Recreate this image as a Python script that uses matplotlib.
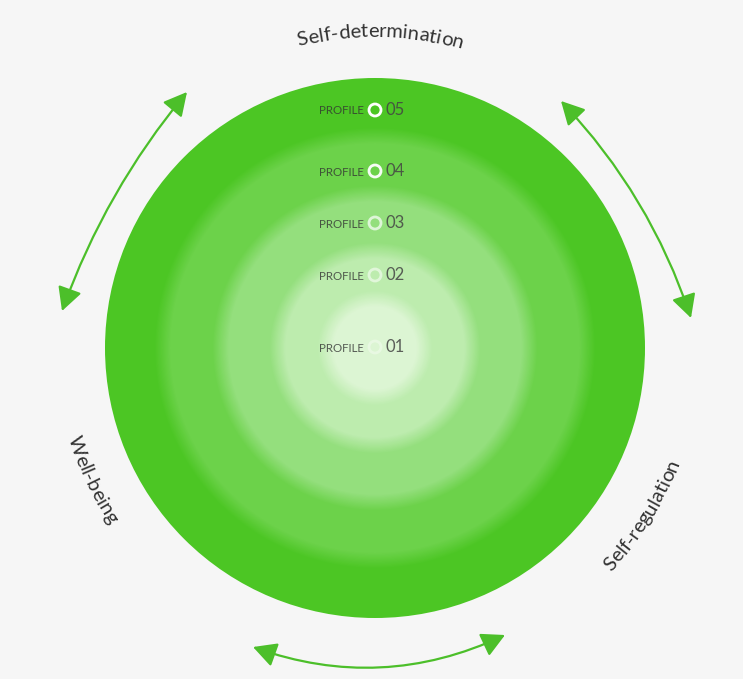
import numpy as np
import matplotlib
matplotlib.use("Agg")
import matplotlib.pyplot as plt
from matplotlib.patches import Circle, FancyArrowPatch
from matplotlib.path import Path
from matplotlib.colors import to_rgb
from matplotlib import font_manager
from matplotlib.ft2font import FT2Font

# profiles, innermost first
profiles = ["01", "02", "03", "04", "05"]
ring_radius = [50, 98, 155, 213, 270]
ring_colors = ["#dcf5d3", "#bdecae", "#94df7d", "#6cd24a", "#4cc624"]
label_y = [347, 275, 223, 171, 110]
marker_alpha = [0.35, 0.55, 0.7, 0.95, 1.0]

# curved labels: text, angle (deg), baseline radius, tops outward?
axis_labels = ["Self-determination", "Well-being", "Self-regulation"]
axis_angles = [89, 205, 328]
axis_radius = [311, 320, 325]
axis_outward = [True, False, False]

W, H = 743, 679
cx, cy = 375, 348
green = "#4cbf2a"
font = "Lato"

fig = plt.figure(figsize=(W / 100, H / 100), dpi=100)
fig.patch.set_facecolor("#f6f6f6")
ax = fig.add_axes([0, 0, 1, 1])
ax.set_xlim(0, W)
ax.set_ylim(H, 0)
ax.set_aspect("equal")
ax.axis("off")

# rings, outside in, with soft edges between them
outer = ring_radius[-1]
ax.add_patch(Circle((cx, cy), outer, color=ring_colors[-1], lw=0))
steps = 14
blur = 8
for i in range(len(ring_radius) - 2, -1, -1):
    c_out = np.array(to_rgb(ring_colors[i + 1]))
    c_in = np.array(to_rgb(ring_colors[i]))
    r = ring_radius[i]
    for k in range(steps + 1):
        t = k / steps
        rr = r + blur * (1 - 2 * t)
        col = c_out + (c_in - c_out) * t
        ax.add_patch(Circle((cx, cy), rr, color=col, lw=0))

# profile labels
for name, y, a in zip(profiles, label_y, marker_alpha):
    ax.text(364, y + 1, "PROFILE", fontsize=8.3, family=font, color="#333333",
            alpha=0.8, ha="right", va="center")
    ax.add_patch(Circle((375, y), 6, fill=False, ec="white", lw=2, alpha=a))
    ax.text(386, y, name, fontsize=12, family=font, color="#444444",
            alpha=0.85, ha="left", va="center")

# glyph advances for laying text on a circle
ft = FT2Font(font_manager.findfont(font_manager.FontProperties(family=font)))


def advances(s, size):
    ft.set_size(size, 100)
    return [ft.load_char(ord(ch)).linearHoriAdvance / 65536 for ch in s]


def curved_text(s, theta_mid, r, outward, size=14.5):
    widths = advances(s, size)
    span = sum(widths) / r
    th0 = np.radians(theta_mid)
    cum = 0
    for ch, w in zip(s, widths):
        d = (cum + w / 2) / r
        if outward:
            th = th0 + span / 2 - d
            rot = np.degrees(th) - 90
        else:
            th = th0 - span / 2 + d
            rot = np.degrees(th) + 90
        x = cx + r * np.cos(th)
        y = cy - r * np.sin(th)
        ax.text(x, y, ch, fontsize=size, family=font, color="#333333",
                rotation=rot, rotation_mode="anchor", ha="center", va="baseline")
        cum += w


for s, a, r, o in zip(axis_labels, axis_angles, axis_radius, axis_outward):
    curved_text(s, a, r, o)


# double-headed curved arrows (quadratic curves bulging away from center)
def arrow(p0, p1, bulge):
    p0 = np.array(p0, float)
    p1 = np.array(p1, float)
    mid = (p0 + p1) / 2
    d = p1 - p0
    n = np.array([-d[1], d[0]]) / np.hypot(*d)
    if np.dot(n, mid - np.array([cx, cy])) < 0:
        n = -n
    ctrl = mid + n * bulge * 2
    path = Path([p0, ctrl, p1], [Path.MOVETO, Path.CURVE3, Path.CURVE3])
    ax.add_patch(FancyArrowPatch(path=path, arrowstyle="<|-|>,head_length=0.95,head_width=0.5",
                                 mutation_scale=15, color=green, lw=1.6))


arrow((187, 92), (62, 311), 11)
arrow((561, 101), (691, 318), 14)
arrow((253, 647), (505, 635), 26)

fig.savefig("out.png", dpi=100, facecolor=fig.get_facecolor())
